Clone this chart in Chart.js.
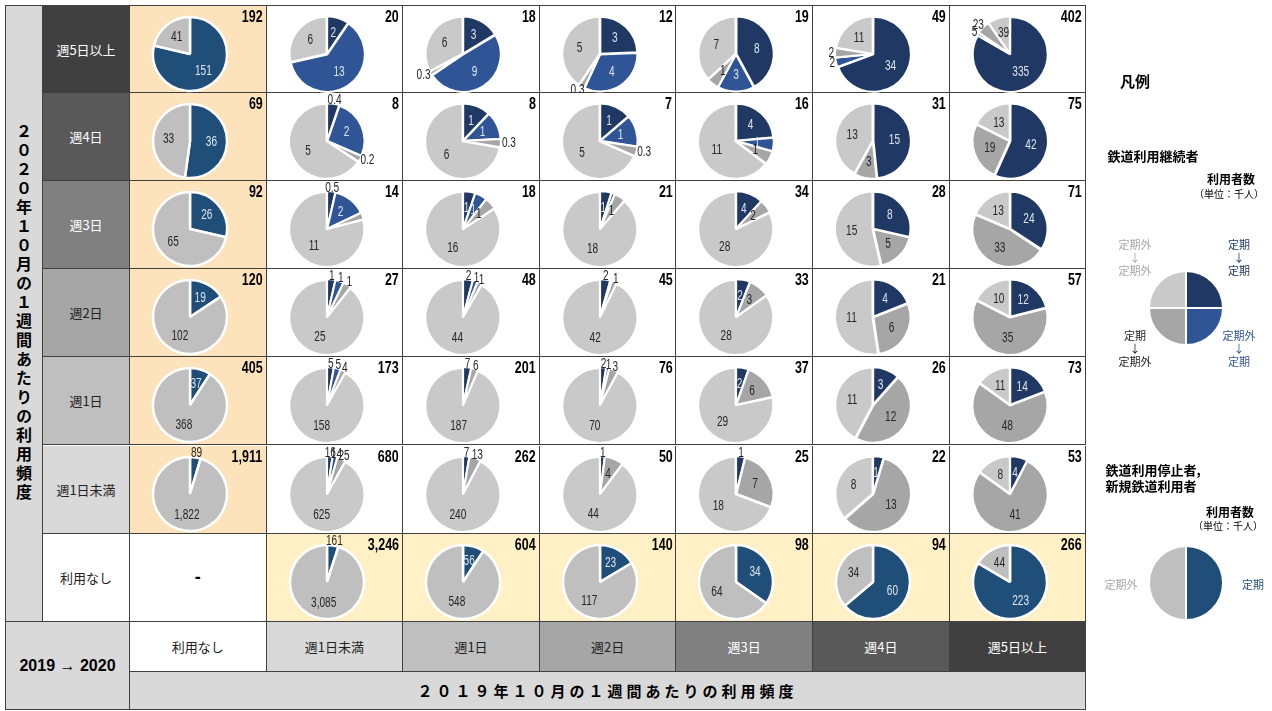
<!DOCTYPE html>
<html lang="ja">
<head>
<meta charset="utf-8">
<title>2019年10月→2020年10月 鉄道利用頻度の変化</title>
<script src="https://cdn.jsdelivr.net/npm/chart.js@4.4.1/dist/chart.umd.min.js"></script>
<style>
body{margin:0;width:1272px;height:711px;background:#fff;font-family:'Noto Sans CJK JP',sans-serif;overflow:hidden;position:relative;}
.box{position:absolute;box-sizing:border-box;border-right:1px solid #404040;border-bottom:1px solid #404040;display:flex;align-items:center;justify-content:center;font-size:13px;color:#222;}
.box canvas{position:absolute;left:0;top:0;}
.total{position:absolute;right:3px;top:2px;font:bold 16px 'Liberation Sans',sans-serif;color:#000;transform:scaleX(0.78);transform-origin:right top;}
.t{position:absolute;transform:translate(-50%,-50%);white-space:nowrap;text-align:center;}
</style>
</head>
<body>
<script>
// 2020年10月 (行) と 2019年10月 (列) の利用頻度
var rowLabels = ['週5日以上','週4日','週3日','週2日','週1日','週1日未満','利用なし'];
var colLabels = ['利用なし','週1日未満','週1日','週2日','週3日','週4日','週5日以上'];
var keepLabels = ['定期→定期','定期外→定期','定期→定期外','定期外→定期外'];
var singleLabels = ['定期','定期外'];

// 継続者 (千人): 列は 2019年 週1日未満 .. 週5日以上
var keep5 = [[2,13,0,6],[3,9,0.3,6],[3,4,0.3,5],[8,3,1,7],[34,2,2,11],[335,5,23,39]];
var keep4 = [[0.4,2,0.2,5],[1,1,0.3,6],[1,1,0.3,5],[4,1,1,11],[15,0,3,13],[42,0,19,13]];
var keep3 = [[0.5,2,0.4,11],[1,1,1,16],[1,0.3,1,18],[4,0,2,28],[8,0,5,15],[24,0,33,13]];
var keep2 = [[1,1,1,25],[2,1,1,44],[2,0.3,1,42],[2,0,3,28],[4,0,6,11],[12,0,35,10]];
var keep1 = [[5,5,4,158],[7,0,6,187],[2,1,3,70],[2,0,6,29],[3,0,12,11],[14,0,48,11]];
var keep0 = [[16,14,25,625],[7,0,13,240],[1,0,4,44],[1,0,7,18],[1,0,13,8],[4,0,41,8]];
var keepRows = [keep5,keep4,keep3,keep2,keep1,keep0];

var keepTotals5 = [20,18,12,19,49,402];
var keepTotals4 = [8,8,7,16,31,75];
var keepTotals3 = [14,18,21,34,28,71];
var keepTotals2 = [27,48,45,33,21,57];
var keepTotals1 = [173,201,76,37,26,73];
var keepTotals0 = [680,262,50,25,22,53];
var keepTotals = [keepTotals5,keepTotals4,keepTotals3,keepTotals2,keepTotals1,keepTotals0];

// 表示されない小さな値 "行-列-項目"
var unlabeled = ['2-0-2','2-2-1','3-2-1'];

// 新規鉄道利用者 [定期, 定期外]
var newUsers = [[151,41],[36,33],[26,65],[19,102],[37,368],[89,1822]];
var newTotals = [192,69,92,120,405,1911];
// 鉄道利用停止者 [定期, 定期外]
var stopUsers = [[161,3085],[56,548],[23,117],[34,64],[60,34],[223,44]];
var stopTotals = [3246,604,140,98,94,266];

var C_KK='#203864', C_NK='#2f5597', C_KN='#a6a6a6', C_NN='#c9c9c9';
var C_T='#1f4e79', C_N='#bfbfbf';
var LIGHT='#dde5ef', DARK='#262626';
var headBg = ['#404040','#595959','#808080','#a6a6a6','#bfbfbf','#d9d9d9','#ffffff'];
var headFg = ['#fff','#fff','#fff','#222','#222','#222','#222'];

var X0=130, Y0=5, CW=136.6, RH=88.1, R=37, SQ=0.72;

function box(x,y,w,h,bg,css){
  var d=document.createElement('div');
  d.className='box';
  d.style.left=x+'px';d.style.top=y+'px';d.style.width=w+'px';d.style.height=h+'px';
  d.style.background=bg||'#fff';
  if(css) d.style.cssText+=css;
  document.body.appendChild(d);
  return d;
}
function txt(x,y,s,css){
  var d=document.createElement('div');
  d.className='t';
  d.style.left=x+'px';d.style.top=y+'px';
  d.innerHTML=s;
  if(css) d.style.cssText+=css;
  document.body.appendChild(d);
  return d;
}

// slice value labels, inside when they fit, outside otherwise
var sliceLabels = {
  id:'sliceLabels',
  afterDatasetsDraw:function(chart){
    var ds=chart.data.datasets[0];
    if(ds.noLabels) return;
    var ctx=chart.ctx, arcs=chart.getDatasetMeta(0).data;
    ctx.save();
    ctx.font='14px "Liberation Sans",sans-serif';
    ctx.textAlign='center';ctx.textBaseline='middle';
    arcs.forEach(function(arc,k){
      var v=ds.data[k];
      if(!v || ds.hideLabels.indexOf(k)>=0) return;
      var p=arc.getProps(['x','y','startAngle','endAngle','outerRadius']);
      var s=v.toLocaleString('en-US');
      var w=ctx.measureText(s).width*SQ;
      var span=p.endAngle-p.startAngle, mid=(p.startAngle+p.endAngle)/2;
      var r=p.outerRadius, chord=2*0.6*r*Math.sin(Math.min(span,Math.PI)/2);
      var cx=Math.cos(mid), sy=Math.sin(mid), x, y;
      if(span>Math.PI || chord>=w*1.1){
        ctx.fillStyle=ds.labelColors[k];
        x=p.x+cx*r*0.58; y=p.y+sy*r*0.58;
      }else{
        ctx.fillStyle=DARK;
        x=p.x+cx*(r+2+w/2); y=p.y+sy*(r+4);
      }
      ctx.save();
      ctx.translate(x,y);ctx.scale(SQ,1);
      ctx.fillText(s,0,0);
      ctx.restore();
    });
    ctx.restore();
  }
};

function makePie(cv,vals,cols,labs,lcols,bw,off,hide,pad){
  return new Chart(cv,{
    type:'pie',
    data:{labels:labs,datasets:[{data:vals,backgroundColor:cols,borderColor:'#fff',borderWidth:bw,offset:off,radius:R,
      labelColors:lcols,hideLabels:hide||[],noLabels:!lcols}]},
    options:{responsive:false,animation:false,events:[],layout:{padding:pad},
      plugins:{legend:{display:false},tooltip:{enabled:false}}},
    plugins:[sliceLabels]
  });
}

function pieCell(d,vals,cols,labs,lcols,bw,off,hide,total){
  var cv=document.createElement('canvas');
  cv.width=Math.round(CW);cv.height=Math.round(RH);
  d.appendChild(cv);
  makePie(cv,vals,cols,labs,lcols,bw,off,hide,{left:0,right:Math.round(CW)-120,top:8,bottom:Math.round(RH)-88});
  var t=document.createElement('div');
  t.className='total';
  t.textContent=total.toLocaleString('en-US');
  d.appendChild(t);
}

// left vertical title
box(5,5,38,617,'#d9d9d9','border-left:1px solid #404040;border-top:1px solid #404040;');
txt(24,313,'２０２０年１０月の１週間あたりの利用頻度','writing-mode:vertical-rl;text-orientation:upright;font-weight:bold;font-size:16px;letter-spacing:3px;color:#000;');

// row headers
rowLabels.forEach(function(l,i){
  var d=box(43,Y0+i*RH,87,RH,headBg[i],i==0?'border-top:1px solid #404040;':'');
  d.style.color=headFg[i];
  d.textContent=l;
});

// grid cells
for(var i=0;i<7;i++){
  for(var j=0;j<7;j++){
    var x=X0+j*CW, y=Y0+i*RH;
    var bg='#fff';
    if(j==0 && i<6) bg='#fde3bb';
    if(i==6 && j>0) bg='#fff1c5';
    var d=box(x,y,CW,RH,bg,i==0?'border-top:1px solid #404040;':'');
    if(i==6 && j==0){
      d.textContent='-';d.style.cssText+='font:bold 18px "Liberation Sans",sans-serif;color:#000;';
    }else if(j==0){
      pieCell(d,newUsers[i],[C_T,C_N],singleLabels,[LIGHT,DARK],2.5,0,[],newTotals[i]);
    }else if(i==6){
      pieCell(d,stopUsers[j-1],[C_T,C_N],singleLabels,[LIGHT,DARK],2.5,0,[],stopTotals[j-1]);
    }else{
      var hide=[];
      unlabeled.forEach(function(u){var a=u.split('-');if(+a[0]==i&&+a[1]==j-1)hide.push(+a[2]);});
      pieCell(d,keepRows[i][j-1],[C_KK,C_NK,C_KN,C_NN],keepLabels,[LIGHT,LIGHT,DARK,DARK],2,2,hide,keepTotals[i][j-1]);
    }
  }
}

// bottom headers
box(5,622,125,88,'#d9d9d9','border-left:1px solid #404040;font:bold 16px "Liberation Sans",sans-serif;color:#000;').textContent='2019 → 2020';
colLabels.forEach(function(l,j){
  var k=6-j;
  var d=box(X0+j*CW,622,CW,50,headBg[k]);
  d.style.color=headFg[k];
  d.textContent=l;
});
var tb=box(X0,672,CW*7,38,'#d9d9d9');
tb.textContent='２０１９年１０月の１週間あたりの利用頻度';
tb.style.cssText+='font-weight:bold;font-size:15px;letter-spacing:4px;color:#000;';

// legend
txt(1135,80,'凡例','font-weight:bold;font-size:15px;');
txt(1153,155,'鉄道利用継続者','font-weight:bold;font-size:13px;');
txt(1231,178,'利用者数','font-weight:bold;font-size:12px;');
txt(1229,193,'（単位：千人）','font-size:10px;');
txt(1135,257,'定期外<br>↓<br>定期外','font-size:11px;line-height:13px;color:#a6a6a6;');
txt(1239,257,'定期<br>↓<br>定期','font-size:11px;line-height:13px;color:'+C_KK+';');
txt(1135,348,'定期<br>↓<br>定期外','font-size:11px;line-height:13px;color:#222;');
txt(1239,348,'定期外<br>↓<br>定期','font-size:11px;line-height:13px;color:'+C_NK+';');

txt(1153,478,'鉄道利用停止者,<br>新規鉄道利用者','font-weight:bold;font-size:13px;line-height:16px;text-align:left;');
txt(1230,511,'利用者数','font-weight:bold;font-size:12px;');
txt(1228,525,'（単位：千人）','font-size:10px;');
txt(1121,584,'定期外','font-size:11px;color:#a6a6a6;');
txt(1253,584,'定期','font-size:11px;color:'+C_T+';');

function legendPie(cx,cy,vals,cols,labs){
  var cv=document.createElement('canvas');
  cv.width=84;cv.height=84;
  cv.style.cssText='position:absolute;left:'+(cx-42)+'px;top:'+(cy-42)+'px;';
  document.body.appendChild(cv);
  makePie(cv,vals,cols,labs,null,2,0,[],0);
}
legendPie(1186,308,[1,1,1,1],[C_KK,C_NK,C_KN,C_NN],keepLabels);
legendPie(1186,583,[1,1],[C_T,C_N],singleLabels);
</script>
</body>
</html>
